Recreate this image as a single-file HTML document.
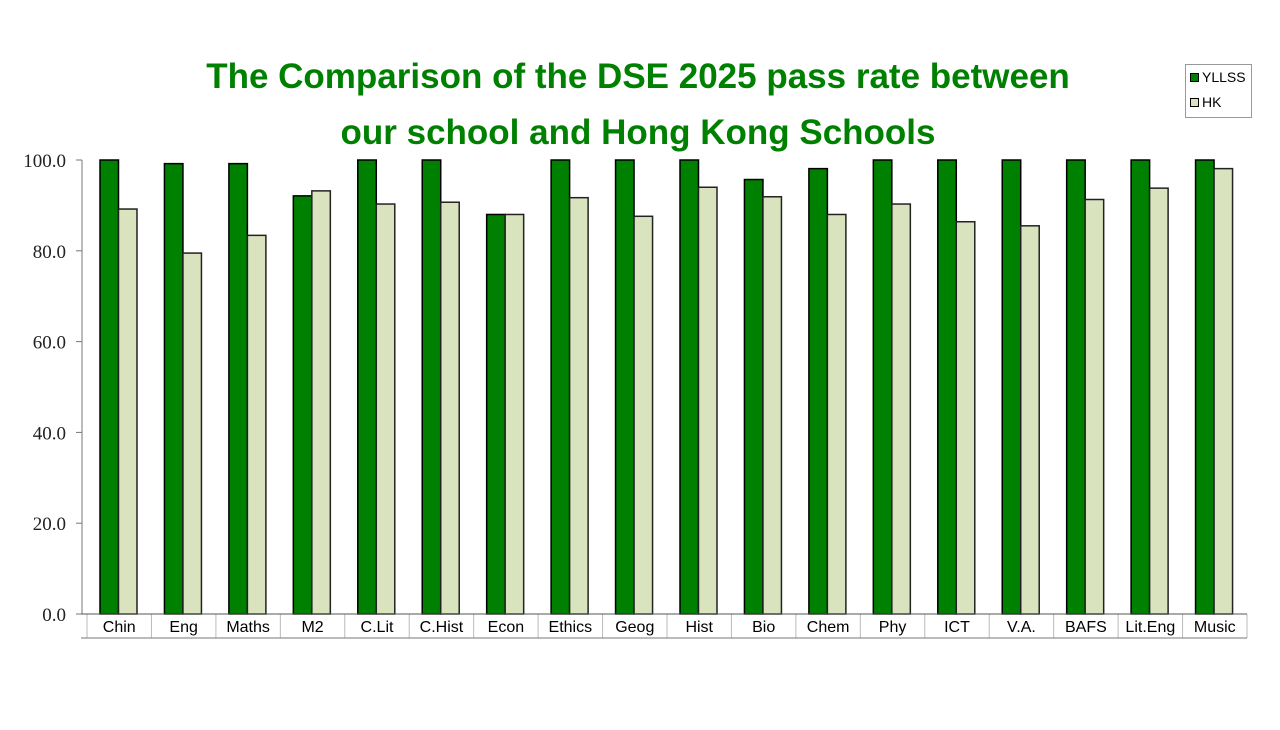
<!DOCTYPE html>
<html><head><meta charset="utf-8"><style>
body{margin:0;background:#fff;width:1280px;height:725px;overflow:hidden;font-family:"Liberation Sans",sans-serif}
</style></head><body>
<svg width="1280" height="725">
<text x="638" y="88" text-anchor="middle" font-family="Liberation Sans" font-weight="bold" font-size="35" fill="#008000">The Comparison of the DSE 2025 pass rate between</text>
<text x="638" y="144" text-anchor="middle" font-family="Liberation Sans" font-weight="bold" font-size="35" fill="#008000">our school and Hong Kong Schools</text>
<g>
<rect x="1185.5" y="64.5" width="66" height="53" fill="#fff" stroke="#999"/>
<rect x="1190.5" y="73.5" width="8" height="8" fill="#008000" stroke="#000"/>
<text x="1202" y="82" font-size="14" fill="#000">YLLSS</text>
<rect x="1190.5" y="98.5" width="8" height="8" fill="#d9e4bf" stroke="#000"/>
<text x="1202" y="107" font-size="14" fill="#000">HK</text>
</g>
<g id="plot"></g>
</svg>
<script>
const categories=["Chin","Eng","Maths","M2","C.Lit","C.Hist","Econ","Ethics","Geog","Hist","Bio","Chem","Phy","ICT","V.A.","BAFS","Lit.Eng","Music"];
const yllss=[100,99.2,99.2,92.1,100,100,88.0,100,100,100,95.7,98.1,100,100,100,100,100,100];
const hk=[89.2,79.5,83.4,93.2,90.3,90.7,88.0,91.7,87.6,94.0,91.9,88.0,90.3,86.4,85.5,91.3,93.8,98.1];
const yTicks=[0,20,40,60,80,100];
const NS="http://www.w3.org/2000/svg";
const g=document.getElementById('plot');
const x0=87,x1=1247,yTop=160,yBot=614;
const cw=(x1-x0)/categories.length;
const y=v=>yBot-(v/100)*(yBot-yTop);
const xc=i=>x0+i*cw;
function mk(t,a){const e=document.createElementNS(NS,t);for(const k in a)e.setAttribute(k,a[k]);g.appendChild(e);return e;}
let ax=mk('line',{x1:82,y1:yTop,x2:82,y2:yBot,stroke:'#777'});


yTicks.forEach(t=>{
 let l=mk('line',{x1:76,x2:82,y1:y(t),y2:y(t),stroke:'#777'});
 
 
 let tx=mk('text',{x:66,y:y(t)+7,'text-anchor':'end','font-family':'Liberation Serif','font-size':'19',fill:'#222'});
 tx.textContent=t.toFixed(1);
 
 
});
categories.forEach((c,i)=>{
 const bx=xc(i)+13,bw=18.5;
 let b1=mk('rect',{x:bx,y:y(yllss[i]),width:bw,height:yBot-y(yllss[i]),fill:'#008000',stroke:'#000','stroke-width':1.5});
 
 
 let b2=mk('rect',{x:bx+bw,y:y(hk[i]),width:bw,height:yBot-y(hk[i]),fill:'#d9e4bf',stroke:'#222','stroke-width':1.5});
 
 
 let d=mk('line',{x1:xc(i),x2:xc(i),y1:yBot,y2:638,stroke:'#bbb'});
 
 
 let t=mk('text',{x:xc(i)+cw/2,y:632,'text-anchor':'middle','font-size':'16',fill:'#000'});
 t.textContent=c;
 
 
});
let d2=mk('line',{x1:x1,x2:x1,y1:yBot,y2:638,stroke:'#bbb'});


let base=mk('line',{x1:81,x2:x1,y1:yBot,y2:yBot,stroke:'#555'});


let bl=mk('line',{x1:81,x2:x1,y1:638,y2:638,stroke:'#777'});


</script>
</body></html>
